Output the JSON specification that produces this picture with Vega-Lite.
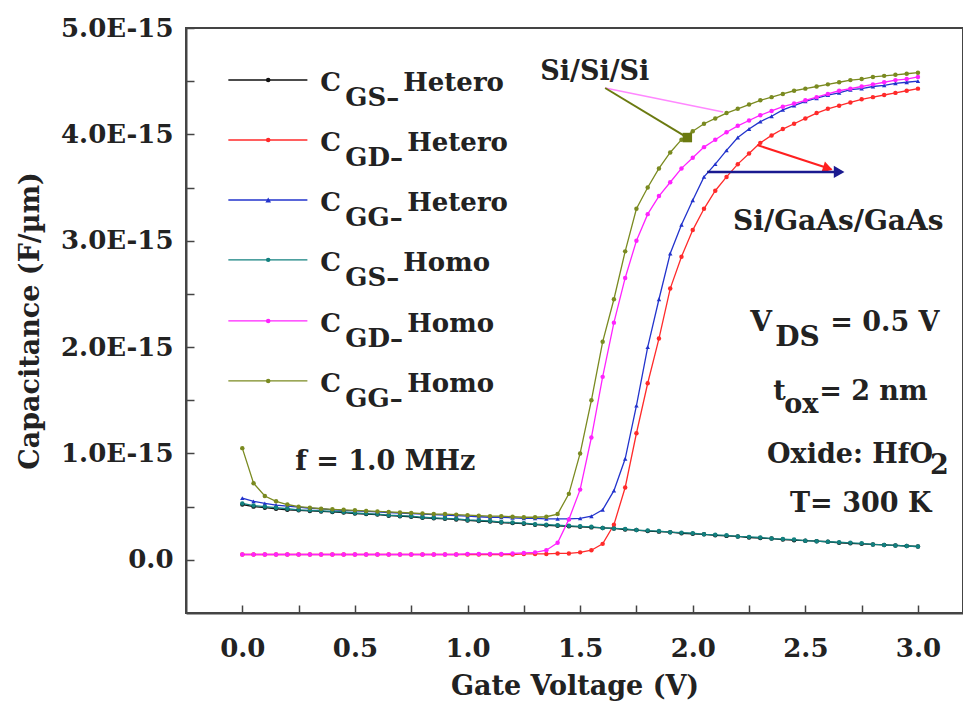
{
  "$schema": "https://vega.github.io/schema/vega-lite/v6.json",
  "width": 777,
  "height": 585,
  "autosize": "none",
  "padding": {"left": 186, "top": 28, "right": 0, "bottom": 96},
  "background": "white",
  "data": {"values": [{}]},
  "config": {
    "view": {"stroke": "#444444", "strokeWidth": 2},
    "font": "DejaVu Serif",
    "axis": {
      "grid": false,
      "ticks": true,
      "tickSize": -8,
      "tickWidth": 1.5,
      "tickColor": "#444444",
      "domainColor": "#444444",
      "domainWidth": 2,
      "labelFont": "DejaVu Serif",
      "labelFontWeight": "bold",
      "labelFontSize": 26,
      "labelColor": "#222222",
      "titleFont": "DejaVu Serif",
      "titleFontWeight": "bold",
      "titleFontSize": 27,
      "titleColor": "#222222"
    }
  },
  "datasets": {
    "cv": [
      {"V": 0.00, "CGS_Hetero": 0.52, "CGD_Hetero": 0.05, "CGG_Hetero": 0.58, "CGS_Homo": 0.53, "CGD_Homo": 0.05, "CGG_Homo": 1.05},
      {"V": 0.05, "CGS_Hetero": 0.50, "CGD_Hetero": 0.05, "CGG_Hetero": 0.55, "CGS_Homo": 0.51, "CGD_Homo": 0.05, "CGG_Homo": 0.72},
      {"V": 0.10, "CGS_Hetero": 0.49, "CGD_Hetero": 0.05, "CGG_Hetero": 0.53, "CGS_Homo": 0.50, "CGD_Homo": 0.05, "CGG_Homo": 0.60},
      {"V": 0.15, "CGS_Hetero": 0.48, "CGD_Hetero": 0.05, "CGG_Hetero": 0.515, "CGS_Homo": 0.49, "CGD_Homo": 0.05, "CGG_Homo": 0.55},
      {"V": 0.20, "CGS_Hetero": 0.47, "CGD_Hetero": 0.05, "CGG_Hetero": 0.505, "CGS_Homo": 0.48, "CGD_Homo": 0.05, "CGG_Homo": 0.52},
      {"V": 0.25, "CGS_Hetero": 0.465, "CGD_Hetero": 0.05, "CGG_Hetero": 0.495, "CGS_Homo": 0.47, "CGD_Homo": 0.05, "CGG_Homo": 0.50},
      {"V": 0.30, "CGS_Hetero": 0.46, "CGD_Hetero": 0.05, "CGG_Hetero": 0.485, "CGS_Homo": 0.465, "CGD_Homo": 0.05, "CGG_Homo": 0.49},
      {"V": 0.35, "CGS_Hetero": 0.455, "CGD_Hetero": 0.05, "CGG_Hetero": 0.48, "CGS_Homo": 0.46, "CGD_Homo": 0.05, "CGG_Homo": 0.48},
      {"V": 0.40, "CGS_Hetero": 0.45, "CGD_Hetero": 0.05, "CGG_Hetero": 0.47, "CGS_Homo": 0.455, "CGD_Homo": 0.05, "CGG_Homo": 0.475},
      {"V": 0.45, "CGS_Hetero": 0.445, "CGD_Hetero": 0.05, "CGG_Hetero": 0.465, "CGS_Homo": 0.45, "CGD_Homo": 0.05, "CGG_Homo": 0.47},
      {"V": 0.50, "CGS_Hetero": 0.435, "CGD_Hetero": 0.05, "CGG_Hetero": 0.46, "CGS_Homo": 0.44, "CGD_Homo": 0.05, "CGG_Homo": 0.465},
      {"V": 0.55, "CGS_Hetero": 0.43, "CGD_Hetero": 0.05, "CGG_Hetero": 0.455, "CGS_Homo": 0.435, "CGD_Homo": 0.05, "CGG_Homo": 0.46},
      {"V": 0.60, "CGS_Hetero": 0.425, "CGD_Hetero": 0.05, "CGG_Hetero": 0.45, "CGS_Homo": 0.43, "CGD_Homo": 0.05, "CGG_Homo": 0.455},
      {"V": 0.65, "CGS_Hetero": 0.415, "CGD_Hetero": 0.05, "CGG_Hetero": 0.445, "CGS_Homo": 0.42, "CGD_Homo": 0.05, "CGG_Homo": 0.45},
      {"V": 0.70, "CGS_Hetero": 0.41, "CGD_Hetero": 0.05, "CGG_Hetero": 0.44, "CGS_Homo": 0.415, "CGD_Homo": 0.05, "CGG_Homo": 0.445},
      {"V": 0.75, "CGS_Hetero": 0.405, "CGD_Hetero": 0.05, "CGG_Hetero": 0.435, "CGS_Homo": 0.41, "CGD_Homo": 0.05, "CGG_Homo": 0.44},
      {"V": 0.80, "CGS_Hetero": 0.395, "CGD_Hetero": 0.05, "CGG_Hetero": 0.43, "CGS_Homo": 0.40, "CGD_Homo": 0.05, "CGG_Homo": 0.435},
      {"V": 0.85, "CGS_Hetero": 0.39, "CGD_Hetero": 0.05, "CGG_Hetero": 0.425, "CGS_Homo": 0.395, "CGD_Homo": 0.05, "CGG_Homo": 0.43},
      {"V": 0.90, "CGS_Hetero": 0.385, "CGD_Hetero": 0.05, "CGG_Hetero": 0.42, "CGS_Homo": 0.39, "CGD_Homo": 0.05, "CGG_Homo": 0.43},
      {"V": 0.95, "CGS_Hetero": 0.38, "CGD_Hetero": 0.05, "CGG_Hetero": 0.415, "CGS_Homo": 0.385, "CGD_Homo": 0.05, "CGG_Homo": 0.425},
      {"V": 1.00, "CGS_Hetero": 0.37, "CGD_Hetero": 0.05, "CGG_Hetero": 0.41, "CGS_Homo": 0.375, "CGD_Homo": 0.055, "CGG_Homo": 0.42},
      {"V": 1.05, "CGS_Hetero": 0.365, "CGD_Hetero": 0.05, "CGG_Hetero": 0.405, "CGS_Homo": 0.37, "CGD_Homo": 0.055, "CGG_Homo": 0.415},
      {"V": 1.10, "CGS_Hetero": 0.36, "CGD_Hetero": 0.05, "CGG_Hetero": 0.40, "CGS_Homo": 0.365, "CGD_Homo": 0.055, "CGG_Homo": 0.41},
      {"V": 1.15, "CGS_Hetero": 0.35, "CGD_Hetero": 0.05, "CGG_Hetero": 0.40, "CGS_Homo": 0.355, "CGD_Homo": 0.055, "CGG_Homo": 0.41},
      {"V": 1.20, "CGS_Hetero": 0.345, "CGD_Hetero": 0.05, "CGG_Hetero": 0.395, "CGS_Homo": 0.35, "CGD_Homo": 0.06, "CGG_Homo": 0.405},
      {"V": 1.25, "CGS_Hetero": 0.34, "CGD_Hetero": 0.055, "CGG_Hetero": 0.39, "CGS_Homo": 0.345, "CGD_Homo": 0.065, "CGG_Homo": 0.40},
      {"V": 1.30, "CGS_Hetero": 0.33, "CGD_Hetero": 0.055, "CGG_Hetero": 0.39, "CGS_Homo": 0.335, "CGD_Homo": 0.07, "CGG_Homo": 0.40},
      {"V": 1.35, "CGS_Hetero": 0.325, "CGD_Hetero": 0.055, "CGG_Hetero": 0.385, "CGS_Homo": 0.33, "CGD_Homo": 0.09, "CGG_Homo": 0.405},
      {"V": 1.40, "CGS_Hetero": 0.32, "CGD_Hetero": 0.06, "CGG_Hetero": 0.385, "CGS_Homo": 0.325, "CGD_Homo": 0.16, "CGG_Homo": 0.43},
      {"V": 1.45, "CGS_Hetero": 0.315, "CGD_Hetero": 0.06, "CGG_Hetero": 0.385, "CGS_Homo": 0.32, "CGD_Homo": 0.38, "CGG_Homo": 0.62},
      {"V": 1.50, "CGS_Hetero": 0.31, "CGD_Hetero": 0.07, "CGG_Hetero": 0.39, "CGS_Homo": 0.315, "CGD_Homo": 0.66, "CGG_Homo": 1.00},
      {"V": 1.55, "CGS_Hetero": 0.305, "CGD_Hetero": 0.09, "CGG_Hetero": 0.41, "CGS_Homo": 0.31, "CGD_Homo": 1.15, "CGG_Homo": 1.50},
      {"V": 1.60, "CGS_Hetero": 0.30, "CGD_Hetero": 0.15, "CGG_Hetero": 0.47, "CGS_Homo": 0.30, "CGD_Homo": 1.72, "CGG_Homo": 2.05},
      {"V": 1.65, "CGS_Hetero": 0.295, "CGD_Hetero": 0.33, "CGG_Hetero": 0.65, "CGS_Homo": 0.295, "CGD_Homo": 2.23, "CGG_Homo": 2.45},
      {"V": 1.70, "CGS_Hetero": 0.285, "CGD_Hetero": 0.68, "CGG_Hetero": 0.95, "CGS_Homo": 0.29, "CGD_Homo": 2.65, "CGG_Homo": 2.90},
      {"V": 1.75, "CGS_Hetero": 0.28, "CGD_Hetero": 1.19, "CGG_Hetero": 1.45, "CGS_Homo": 0.28, "CGD_Homo": 3.00, "CGG_Homo": 3.30},
      {"V": 1.80, "CGS_Hetero": 0.27, "CGD_Hetero": 1.66, "CGG_Hetero": 2.00, "CGS_Homo": 0.275, "CGD_Homo": 3.25, "CGG_Homo": 3.50},
      {"V": 1.85, "CGS_Hetero": 0.265, "CGD_Hetero": 2.08, "CGG_Hetero": 2.45, "CGS_Homo": 0.27, "CGD_Homo": 3.42, "CGG_Homo": 3.68},
      {"V": 1.90, "CGS_Hetero": 0.26, "CGD_Hetero": 2.55, "CGG_Hetero": 2.88, "CGS_Homo": 0.26, "CGD_Homo": 3.55, "CGG_Homo": 3.83},
      {"V": 1.95, "CGS_Hetero": 0.25, "CGD_Hetero": 2.85, "CGG_Hetero": 3.15, "CGS_Homo": 0.255, "CGD_Homo": 3.68, "CGG_Homo": 3.95},
      {"V": 2.00, "CGS_Hetero": 0.245, "CGD_Hetero": 3.10, "CGG_Hetero": 3.38, "CGS_Homo": 0.25, "CGD_Homo": 3.78, "CGG_Homo": 4.03},
      {"V": 2.05, "CGS_Hetero": 0.24, "CGD_Hetero": 3.30, "CGG_Hetero": 3.60, "CGS_Homo": 0.24, "CGD_Homo": 3.88, "CGG_Homo": 4.10},
      {"V": 2.10, "CGS_Hetero": 0.23, "CGD_Hetero": 3.47, "CGG_Hetero": 3.72, "CGS_Homo": 0.235, "CGD_Homo": 3.95, "CGG_Homo": 4.15},
      {"V": 2.15, "CGS_Hetero": 0.225, "CGD_Hetero": 3.60, "CGG_Hetero": 3.85, "CGS_Homo": 0.23, "CGD_Homo": 4.02, "CGG_Homo": 4.20},
      {"V": 2.20, "CGS_Hetero": 0.22, "CGD_Hetero": 3.72, "CGG_Hetero": 3.97, "CGS_Homo": 0.22, "CGD_Homo": 4.08, "CGG_Homo": 4.24},
      {"V": 2.25, "CGS_Hetero": 0.21, "CGD_Hetero": 3.82, "CGG_Hetero": 4.05, "CGS_Homo": 0.215, "CGD_Homo": 4.13, "CGG_Homo": 4.28},
      {"V": 2.30, "CGS_Hetero": 0.205, "CGD_Hetero": 3.92, "CGG_Hetero": 4.12, "CGS_Homo": 0.21, "CGD_Homo": 4.18, "CGG_Homo": 4.32},
      {"V": 2.35, "CGS_Hetero": 0.20, "CGD_Hetero": 3.99, "CGG_Hetero": 4.17, "CGS_Homo": 0.20, "CGD_Homo": 4.22, "CGG_Homo": 4.35},
      {"V": 2.40, "CGS_Hetero": 0.19, "CGD_Hetero": 4.05, "CGG_Hetero": 4.23, "CGS_Homo": 0.195, "CGD_Homo": 4.26, "CGG_Homo": 4.38},
      {"V": 2.45, "CGS_Hetero": 0.185, "CGD_Hetero": 4.10, "CGG_Hetero": 4.27, "CGS_Homo": 0.19, "CGD_Homo": 4.29, "CGG_Homo": 4.41},
      {"V": 2.50, "CGS_Hetero": 0.18, "CGD_Hetero": 4.15, "CGG_Hetero": 4.31, "CGS_Homo": 0.18, "CGD_Homo": 4.32, "CGG_Homo": 4.43},
      {"V": 2.55, "CGS_Hetero": 0.175, "CGD_Hetero": 4.20, "CGG_Hetero": 4.34, "CGS_Homo": 0.175, "CGD_Homo": 4.35, "CGG_Homo": 4.45},
      {"V": 2.60, "CGS_Hetero": 0.17, "CGD_Hetero": 4.24, "CGG_Hetero": 4.37, "CGS_Homo": 0.17, "CGD_Homo": 4.38, "CGG_Homo": 4.47},
      {"V": 2.65, "CGS_Hetero": 0.16, "CGD_Hetero": 4.27, "CGG_Hetero": 4.39, "CGS_Homo": 0.165, "CGD_Homo": 4.41, "CGG_Homo": 4.49},
      {"V": 2.70, "CGS_Hetero": 0.155, "CGD_Hetero": 4.30, "CGG_Hetero": 4.42, "CGS_Homo": 0.16, "CGD_Homo": 4.43, "CGG_Homo": 4.51},
      {"V": 2.75, "CGS_Hetero": 0.15, "CGD_Hetero": 4.33, "CGG_Hetero": 4.43, "CGS_Homo": 0.155, "CGD_Homo": 4.45, "CGG_Homo": 4.52},
      {"V": 2.80, "CGS_Hetero": 0.145, "CGD_Hetero": 4.35, "CGG_Hetero": 4.45, "CGS_Homo": 0.145, "CGD_Homo": 4.47, "CGG_Homo": 4.54},
      {"V": 2.85, "CGS_Hetero": 0.14, "CGD_Hetero": 4.37, "CGG_Hetero": 4.46, "CGS_Homo": 0.14, "CGD_Homo": 4.49, "CGG_Homo": 4.55},
      {"V": 2.90, "CGS_Hetero": 0.135, "CGD_Hetero": 4.39, "CGG_Hetero": 4.48, "CGS_Homo": 0.135, "CGD_Homo": 4.51, "CGG_Homo": 4.56},
      {"V": 2.95, "CGS_Hetero": 0.13, "CGD_Hetero": 4.41, "CGG_Hetero": 4.49, "CGS_Homo": 0.13, "CGD_Homo": 4.52, "CGG_Homo": 4.57},
      {"V": 3.00, "CGS_Hetero": 0.125, "CGD_Hetero": 4.43, "CGG_Hetero": 4.50, "CGS_Homo": 0.125, "CGD_Homo": 4.54, "CGG_Homo": 4.58}
    ]
  },
  "layer": [
    {
      "data": {"name": "cv"},
      "transform": [
        {"fold": ["CGS_Hetero", "CGD_Hetero", "CGG_Hetero", "CGS_Homo", "CGD_Homo", "CGG_Homo"], "as": ["series", "cap"]}
      ],
      "mark": {"type": "line", "strokeWidth": 1.3},
      "encoding": {
        "x": {
          "field": "V", "type": "quantitative",
          "scale": {"domain": [-0.25, 3.2], "nice": false, "zero": false},
          "axis": {
            "title": "Gate Voltage (V)",
            "values": [0, 0.25, 0.5, 0.75, 1, 1.25, 1.5, 1.75, 2, 2.25, 2.5, 2.75, 3],
            "labelExpr": "datum.value % 0.5 == 0 ? format(datum.value, '.1f') : ''",
            "labelPadding": 30,
            "titlePadding": 12,
            "labelFlush": false
          }
        },
        "y": {
          "field": "cap", "type": "quantitative",
          "scale": {"domain": [-0.5, 5.0], "nice": false, "zero": false},
          "axis": {
            "title": "Capacitance (F/µm)",
            "values": [0, 0.5, 1, 1.5, 2, 2.5, 3, 3.5, 4, 4.5, 5],
            "labelExpr": "datum.value == 0 ? '0.0' : (datum.value % 1 == 0 ? format(datum.value, '.1f') + 'E-15' : '')",
            "labelPadding": 21,
            "titlePadding": 16,
            "labelFlush": false
          }
        },
        "color": {
          "field": "series", "type": "nominal", "legend": null,
          "scale": {
            "domain": ["CGS_Hetero", "CGD_Hetero", "CGG_Hetero", "CGS_Homo", "CGD_Homo", "CGG_Homo"],
            "range": ["#111111", "#ff2a2a", "#2233cc", "#12807f", "#ff22ff", "#7a8a20"]
          }
        },
        "detail": {"field": "series"}
      }
    },
    {
      "data": {"name": "cv"},
      "transform": [
        {"fold": ["CGS_Hetero", "CGD_Hetero", "CGG_Hetero", "CGS_Homo", "CGD_Homo", "CGG_Homo"], "as": ["series", "cap"]}
      ],
      "mark": {"type": "point", "filled": true, "size": 20, "opacity": 1},
      "encoding": {
        "x": {"field": "V", "type": "quantitative"},
        "y": {"field": "cap", "type": "quantitative"},
        "color": {"field": "series", "type": "nominal", "legend": null},
        "shape": {
          "field": "series", "type": "nominal", "legend": null,
          "scale": {
            "domain": ["CGS_Hetero", "CGD_Hetero", "CGG_Hetero", "CGS_Homo", "CGD_Homo", "CGG_Homo"],
            "range": ["circle", "circle", "triangle-up", "circle", "circle", "circle"]
          }
        }
      }
    },

    {"mark": {"type": "rule", "color": "#ff88ff", "strokeWidth": 1.5}, "encoding": {"x": {"datum": 1.611}, "y": {"datum": 4.436}, "x2": {"datum": 2.135}, "y2": {"datum": 4.21}}},
    {"mark": {"type": "rule", "color": "#6b7a10", "strokeWidth": 2}, "encoding": {"x": {"datum": 1.611}, "y": {"datum": 4.436}, "x2": {"datum": 1.976}, "y2": {"datum": 3.97}}},
    {"mark": {"type": "point", "shape": "square", "filled": true, "size": 90, "color": "#6b7a10", "opacity": 1}, "encoding": {"x": {"datum": 1.976}, "y": {"datum": 3.97}}},
    {"mark": {"type": "rule", "color": "#ff2020", "strokeWidth": 2}, "encoding": {"x": {"datum": 2.286}, "y": {"datum": 3.90}, "x2": {"datum": 2.615}, "y2": {"datum": 3.672}}},
    {"mark": {"type": "point", "shape": "triangle-right", "angle": 18, "filled": true, "size": 130, "color": "#ff2020", "opacity": 1}, "encoding": {"x": {"datum": 2.6}, "y": {"datum": 3.68}}},
    {"mark": {"type": "rule", "color": "#1a1a90", "strokeWidth": 2.5}, "encoding": {"x": {"datum": 2.064}, "y": {"datum": 3.647}, "x2": {"datum": 2.66}, "y2": {"datum": 3.647}}},
    {"mark": {"type": "point", "shape": "triangle-right", "filled": true, "size": 150, "color": "#1a1a90", "opacity": 1}, "encoding": {"x": {"datum": 2.65}, "y": {"datum": 3.647}}},

    {"mark": {"type": "text", "text": "Si/Si/Si", "align": "left", "baseline": "alphabetic", "fontSize": 27, "fontWeight": "bold", "color": "#222222"}, "encoding": {"x": {"datum": 1.323}, "y": {"datum": 4.511}}},
    {"mark": {"type": "text", "text": "Si/GaAs/GaAs", "align": "left", "baseline": "alphabetic", "fontSize": 28, "fontWeight": "bold", "color": "#222222"}, "encoding": {"x": {"datum": 2.179}, "y": {"datum": 3.102}}},
    {"mark": {"type": "text", "text": "f = 1.0 MHz", "align": "left", "baseline": "alphabetic", "fontSize": 27, "fontWeight": "bold", "color": "#222222"}, "encoding": {"x": {"datum": 0.235}, "y": {"datum": 0.846}}},

    {"mark": {"type": "text", "text": "V", "align": "left", "baseline": "alphabetic", "fontSize": 28, "fontWeight": "bold", "color": "#222222"}, "encoding": {"x": {"datum": 2.255}, "y": {"datum": 2.152}}},
    {"mark": {"type": "text", "text": "DS", "align": "left", "baseline": "alphabetic", "dx": 25, "dy": 15, "fontSize": 28, "fontWeight": "bold", "color": "#222222"}, "encoding": {"x": {"datum": 2.255}, "y": {"datum": 2.152}}},
    {"mark": {"type": "text", "text": "= 0.5 V", "align": "left", "baseline": "alphabetic", "dx": 80, "fontSize": 27, "fontWeight": "bold", "color": "#222222"}, "encoding": {"x": {"datum": 2.255}, "y": {"datum": 2.152}}},

    {"mark": {"type": "text", "text": "t", "align": "left", "baseline": "alphabetic", "fontSize": 27, "fontWeight": "bold", "color": "#222222"}, "encoding": {"x": {"datum": 2.357}, "y": {"datum": 1.504}}},
    {"mark": {"type": "text", "text": "ox", "align": "left", "baseline": "alphabetic", "dx": 11, "dy": 13, "fontSize": 27, "fontWeight": "bold", "color": "#222222"}, "encoding": {"x": {"datum": 2.357}, "y": {"datum": 1.504}}},
    {"mark": {"type": "text", "text": "= 2 nm", "align": "left", "baseline": "alphabetic", "dx": 46, "fontSize": 27, "fontWeight": "bold", "color": "#222222"}, "encoding": {"x": {"datum": 2.357}, "y": {"datum": 1.504}}},

    {"mark": {"type": "text", "text": "Oxide: HfO", "align": "left", "baseline": "alphabetic", "fontSize": 27, "fontWeight": "bold", "color": "#222222"}, "encoding": {"x": {"datum": 2.33}, "y": {"datum": 0.912}}},
    {"mark": {"type": "text", "text": "2", "align": "left", "baseline": "alphabetic", "dx": 163, "dy": 11, "fontSize": 27, "fontWeight": "bold", "color": "#222222"}, "encoding": {"x": {"datum": 2.33}, "y": {"datum": 0.912}}},
    {"mark": {"type": "text", "text": "T= 300 K", "align": "left", "baseline": "alphabetic", "fontSize": 27, "fontWeight": "bold", "color": "#222222"}, "encoding": {"x": {"datum": 2.432}, "y": {"datum": 0.451}}},

    {"mark": {"type": "rule", "color": "#111111", "strokeWidth": 1.3}, "encoding": {"x": {"datum": -0.062}, "x2": {"datum": 0.289}, "y": {"datum": 4.511}}},
    {"mark": {"type": "point", "shape": "circle", "filled": true, "size": 20, "color": "#111111", "opacity": 1}, "encoding": {"x": {"datum": 0.115}, "y": {"datum": 4.511}}},
    {"mark": {"type": "text", "text": "C", "align": "left", "baseline": "alphabetic", "dy": 11, "fontSize": 26, "fontWeight": "bold", "color": "#222222"}, "encoding": {"x": {"datum": 0.346}, "y": {"datum": 4.511}}},
    {"mark": {"type": "text", "text": "GS–", "align": "left", "baseline": "alphabetic", "dx": 25, "dy": 26, "fontSize": 26, "fontWeight": "bold", "color": "#222222"}, "encoding": {"x": {"datum": 0.346}, "y": {"datum": 4.511}}},
    {"mark": {"type": "text", "text": "Hetero", "align": "left", "baseline": "alphabetic", "dx": 83, "dy": 11, "fontSize": 26, "fontWeight": "bold", "color": "#222222"}, "encoding": {"x": {"datum": 0.346}, "y": {"datum": 4.511}}},

    {"mark": {"type": "rule", "color": "#ff2a2a", "strokeWidth": 1.3}, "encoding": {"x": {"datum": -0.062}, "x2": {"datum": 0.289}, "y": {"datum": 3.947}}},
    {"mark": {"type": "point", "shape": "circle", "filled": true, "size": 20, "color": "#ff2a2a", "opacity": 1}, "encoding": {"x": {"datum": 0.115}, "y": {"datum": 3.947}}},
    {"mark": {"type": "text", "text": "C", "align": "left", "baseline": "alphabetic", "dy": 11, "fontSize": 26, "fontWeight": "bold", "color": "#222222"}, "encoding": {"x": {"datum": 0.346}, "y": {"datum": 3.947}}},
    {"mark": {"type": "text", "text": "GD–", "align": "left", "baseline": "alphabetic", "dx": 25, "dy": 26, "fontSize": 26, "fontWeight": "bold", "color": "#222222"}, "encoding": {"x": {"datum": 0.346}, "y": {"datum": 3.947}}},
    {"mark": {"type": "text", "text": "Hetero", "align": "left", "baseline": "alphabetic", "dx": 87, "dy": 11, "fontSize": 26, "fontWeight": "bold", "color": "#222222"}, "encoding": {"x": {"datum": 0.346}, "y": {"datum": 3.947}}},

    {"mark": {"type": "rule", "color": "#2233cc", "strokeWidth": 1.3}, "encoding": {"x": {"datum": -0.062}, "x2": {"datum": 0.289}, "y": {"datum": 3.383}}},
    {"mark": {"type": "point", "shape": "triangle-up", "filled": true, "size": 32, "color": "#2233cc", "opacity": 1}, "encoding": {"x": {"datum": 0.115}, "y": {"datum": 3.383}}},
    {"mark": {"type": "text", "text": "C", "align": "left", "baseline": "alphabetic", "dy": 11, "fontSize": 26, "fontWeight": "bold", "color": "#222222"}, "encoding": {"x": {"datum": 0.346}, "y": {"datum": 3.383}}},
    {"mark": {"type": "text", "text": "GG–", "align": "left", "baseline": "alphabetic", "dx": 25, "dy": 26, "fontSize": 26, "fontWeight": "bold", "color": "#222222"}, "encoding": {"x": {"datum": 0.346}, "y": {"datum": 3.383}}},
    {"mark": {"type": "text", "text": "Hetero", "align": "left", "baseline": "alphabetic", "dx": 87, "dy": 11, "fontSize": 26, "fontWeight": "bold", "color": "#222222"}, "encoding": {"x": {"datum": 0.346}, "y": {"datum": 3.383}}},

    {"mark": {"type": "rule", "color": "#12807f", "strokeWidth": 1.3}, "encoding": {"x": {"datum": -0.062}, "x2": {"datum": 0.289}, "y": {"datum": 2.82}}},
    {"mark": {"type": "point", "shape": "circle", "filled": true, "size": 20, "color": "#12807f", "opacity": 1}, "encoding": {"x": {"datum": 0.115}, "y": {"datum": 2.82}}},
    {"mark": {"type": "text", "text": "C", "align": "left", "baseline": "alphabetic", "dy": 11, "fontSize": 26, "fontWeight": "bold", "color": "#222222"}, "encoding": {"x": {"datum": 0.346}, "y": {"datum": 2.82}}},
    {"mark": {"type": "text", "text": "GS–", "align": "left", "baseline": "alphabetic", "dx": 25, "dy": 26, "fontSize": 26, "fontWeight": "bold", "color": "#222222"}, "encoding": {"x": {"datum": 0.346}, "y": {"datum": 2.82}}},
    {"mark": {"type": "text", "text": "Homo", "align": "left", "baseline": "alphabetic", "dx": 83, "dy": 11, "fontSize": 26, "fontWeight": "bold", "color": "#222222"}, "encoding": {"x": {"datum": 0.346}, "y": {"datum": 2.82}}},

    {"mark": {"type": "rule", "color": "#ff22ff", "strokeWidth": 1.3}, "encoding": {"x": {"datum": -0.062}, "x2": {"datum": 0.289}, "y": {"datum": 2.246}}},
    {"mark": {"type": "point", "shape": "circle", "filled": true, "size": 20, "color": "#ff22ff", "opacity": 1}, "encoding": {"x": {"datum": 0.115}, "y": {"datum": 2.246}}},
    {"mark": {"type": "text", "text": "C", "align": "left", "baseline": "alphabetic", "dy": 11, "fontSize": 26, "fontWeight": "bold", "color": "#222222"}, "encoding": {"x": {"datum": 0.346}, "y": {"datum": 2.246}}},
    {"mark": {"type": "text", "text": "GD–", "align": "left", "baseline": "alphabetic", "dx": 25, "dy": 26, "fontSize": 26, "fontWeight": "bold", "color": "#222222"}, "encoding": {"x": {"datum": 0.346}, "y": {"datum": 2.246}}},
    {"mark": {"type": "text", "text": "Homo", "align": "left", "baseline": "alphabetic", "dx": 87, "dy": 11, "fontSize": 26, "fontWeight": "bold", "color": "#222222"}, "encoding": {"x": {"datum": 0.346}, "y": {"datum": 2.246}}},

    {"mark": {"type": "rule", "color": "#7a8a20", "strokeWidth": 1.3}, "encoding": {"x": {"datum": -0.062}, "x2": {"datum": 0.289}, "y": {"datum": 1.682}}},
    {"mark": {"type": "point", "shape": "circle", "filled": true, "size": 20, "color": "#7a8a20", "opacity": 1}, "encoding": {"x": {"datum": 0.115}, "y": {"datum": 1.682}}},
    {"mark": {"type": "text", "text": "C", "align": "left", "baseline": "alphabetic", "dy": 11, "fontSize": 26, "fontWeight": "bold", "color": "#222222"}, "encoding": {"x": {"datum": 0.346}, "y": {"datum": 1.682}}},
    {"mark": {"type": "text", "text": "GG–", "align": "left", "baseline": "alphabetic", "dx": 25, "dy": 26, "fontSize": 26, "fontWeight": "bold", "color": "#222222"}, "encoding": {"x": {"datum": 0.346}, "y": {"datum": 1.682}}},
    {"mark": {"type": "text", "text": "Homo", "align": "left", "baseline": "alphabetic", "dx": 87, "dy": 11, "fontSize": 26, "fontWeight": "bold", "color": "#222222"}, "encoding": {"x": {"datum": 0.346}, "y": {"datum": 1.682}}}
  ]
}
